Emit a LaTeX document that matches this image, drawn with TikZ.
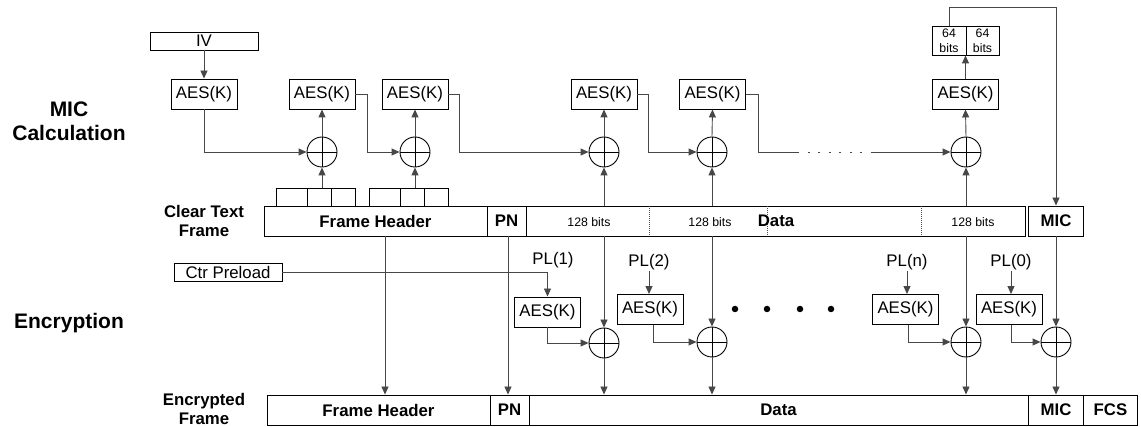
\documentclass[tikz,border=0pt]{standalone}
\usepackage{fontspec}
\setmainfont{Liberation Sans}
\usetikzlibrary{arrows.meta}
\begin{document}
\begin{tikzpicture}[x=1pt,y=-1pt,
  box/.style={draw=black,line width=0.9pt,rectangle,inner sep=0pt,font=\fontsize{16.8}{18}\selectfont},
  aes/.style={box,minimum width=66pt,minimum height=30pt},
  fld/.style={box,minimum height=30pt,font=\fontsize{16.8}{18}\selectfont\bfseries},
  cell/.style={box,minimum height=18pt},
  xor/.style={circle,draw=black,line width=0.9pt,minimum size=30pt,inner sep=0pt,
    path picture={\draw[line width=0.9pt] (path picture bounding box.north) -- (path picture bounding box.south)
      (path picture bounding box.west) -- (path picture bounding box.east);}},
  conn/.style={draw=black!72,line width=0.9pt},
  arr/.style={conn,-{Triangle[length=8pt,width=7pt]}},
  lbl/.style={font=\fontsize{16.8}{19}\selectfont\bfseries,align=center,inner sep=0pt},
  big/.style={font=\fontsize{21}{24}\selectfont\bfseries,align=center,inner sep=0pt},
  small/.style={font=\fontsize{12.3}{15}\selectfont,inner sep=0pt,align=center},
  pl/.style={font=\fontsize{16.8}{18}\selectfont,inner sep=1pt},
  bigdot/.style={circle,fill=black,minimum size=6.5pt,inner sep=0pt},
  divl/.style={draw=black!70,line width=0.6pt,dash pattern=on 1pt off 1pt}
]
\useasboundingbox (0,0) rectangle (1141,427);

% left labels
\node[big] (lmic) at (69,121) {MIC\\Calculation};
\node[big] (lenc) at (69,323) {Encryption};
\node[lbl] (lclr) at (204,221) {Clear Text\\Frame};
\node[lbl] (lenf) at (204,409) {Encrypted\\Frame};

% IV and top AES row
\node[box,minimum width=108pt,minimum height=18pt] (iv) at (204,41) {IV};
\node[aes] (a1) at (204,94) {AES(K)};
\node[aes] (a2) at (322,94) {AES(K)};
\node[aes] (a3) at (415,94) {AES(K)};
\node[aes] (a4) at (604,94) {AES(K)};
\node[aes] (a5) at (712.5,94) {AES(K)};
\node[aes] (a6) at (965.5,94) {AES(K)};

% 64 bits box
\node[box,small,minimum width=34pt,minimum height=29pt] (bL) at (949,40.5) {64\\bits};
\node[box,small,minimum width=33pt,minimum height=29pt] (bR) at (982.5,40.5) {64\\bits};

% top XORs
\node[xor] (x1) at (322,152) {};
\node[xor] (x2) at (415,152) {};
\node[xor] (x3) at (604,152) {};
\node[xor] (x4) at (712,152) {};
\node[xor] (x5) at (966,152) {};

% small header cells
\node[cell,minimum width=31pt] (s1) at (291.5,197) {};
\node[cell,minimum width=24pt] (s2) at (319,197) {};
\node[cell,minimum width=24pt] (s3) at (343,197) {};
\node[cell,minimum width=31pt] (s4) at (384.5,197) {};
\node[cell,minimum width=24pt] (s5) at (412,197) {};
\node[cell,minimum width=24pt] (s6) at (436,197) {};

% clear text frame
\node[fld,minimum width=223pt] (cFH) at (375.5,221) {Frame Header};
\node[fld,minimum width=39pt] (cPN) at (506.5,221) {PN};
\node[fld,minimum width=499pt] (cData) at (775.5,221) {};
\node[fld,minimum width=55pt] (cMIC) at (1056,221) {MIC};
\draw[divl] (649,206.5) -- (649,235.5);
\draw[divl] (767,206.5) -- (767,235.5);
\draw[divl] (921,206.5) -- (921,235.5);
\node[small] (t1) at (589,222) {128 bits};
\node[small] (t2) at (710,222) {128 bits};
\node[small] (t3) at (973,222) {128 bits};
\node[lbl] (tD) at (776,221) {Data};

% counter preload & PL labels
\node[box,minimum width=108pt,minimum height=18pt] (ctr) at (228,272) {Ctr Preload};
\node[pl] (pl1) at (553,260) {PL(1)};
\node[pl] (pl2) at (649,262) {PL(2)};
\node[pl] (pln) at (907,262) {PL(n)};
\node[pl] (pl0) at (1011,262) {PL(0)};

% encryption AES
\node[aes] (e1) at (547.5,312) {AES(K)};
\node[aes] (e2) at (650,309.5) {AES(K)};
\node[aes] (en) at (905.5,309.5) {AES(K)};
\node[aes] (e0) at (1009,309.5) {AES(K)};

% encryption XORs
\node[xor] (y1) at (604,343) {};
\node[xor] (y2) at (712,342) {};
\node[xor] (yn) at (966,342) {};
\node[xor] (y0) at (1056,342) {};

% dots
\node[bigdot] (d1) at (735,309) {};
\node[bigdot] (d2) at (767,309) {};
\node[bigdot] (d3) at (800,309) {};
\node[bigdot] (d4) at (831,309) {};

% encrypted frame
\node[fld,minimum width=223pt] (eFH) at (378.5,410) {Frame Header};
\node[fld,minimum width=39pt] (ePN) at (509.5,410) {PN};
\node[fld,minimum width=499pt] (eData) at (778.5,410) {Data};
\node[fld,minimum width=55pt] (eMIC) at (1056,410) {MIC};
\node[fld,minimum width=54pt] (eFCS) at (1110.5,410) {FCS};

% ---- MIC calculation connectors
\draw[arr] (iv.south) -- (a1.north);
\draw[arr] (a1.south) |- (x1.west);
\draw[arr] (x1.north) -- (a2.south);
\draw[arr] (x1 |- s2.north) -- (x1.south);
\draw[arr] (a2.east) -- ++(12,0) |- (x2.west);
\draw[arr] (x2.north) -- (a3.south);
\draw[arr] (x2 |- s5.north) -- (x2.south);
\draw[arr] (a3.east) -- ++(11,0) |- (x3.west);
\draw[arr] (x3.north) -- (a4.south);
\draw[arr] (x3 |- cData.north) -- (x3.south);
\draw[arr] (a4.east) -- ++(11,0) |- (x4.west);
\draw[arr] (x4.north) -- (a5.south);
\draw[arr] (x4 |- cData.north) -- (x4.south);
\coordinate (dA) at (797,152);
\coordinate (dB) at (873,152);
\draw[conn] (a5.east) -- ++(12,0) |- (dA);
\draw[conn,dash pattern=on 2pt off 8.5pt] (dA) -- (dB);
\draw[arr] (dB) -- (x5.west);
\draw[arr] (x5.north) -- (a6.south);
\draw[arr] (x5 |- cData.north) -- (x5.south);
\draw[arr] (a6.north) -- (a6.north |- bL.south);
\coordinate (tp) at (1056,7);
\draw[arr] (bL.north) |- (tp) -- (cMIC.north);

% ---- encryption connectors
\draw[arr] ([xshift=9.5pt]cFH.south) -- ([xshift=9.5pt]cFH.south |- eFH.north);
\draw[arr] ([xshift=1.5pt]cPN.south) -- ([xshift=1.5pt]cPN.south |- ePN.north);
\draw[arr] (ctr.east) -| (e1.north);
\draw[arr] (pl2.south) -- (pl2.south |- e2.north);
\draw[arr] (pln.south) -- (pln.south |- en.north);
\draw[arr] (pl0.south) -- (pl0.south |- e0.north);
\draw[arr] (e1.south) |- (y1.west);
\draw[arr] ([xshift=3pt]e2.south) |- (y2.west);
\draw[arr] ([xshift=3pt]en.south) |- (yn.west);
\draw[arr] ([xshift=2pt]e0.south) |- (y0.west);
\draw[arr] (y1 |- cData.south) -- (y1.north);
\draw[arr] (y2 |- cData.south) -- (y2.north);
\draw[arr] (yn |- cData.south) -- (yn.north);
\draw[arr] (cMIC.south) -- (y0.north);
\draw[arr] (y1.south) -- (y1 |- eData.north);
\draw[arr] (y2.south) -- (y2 |- eData.north);
\draw[arr] (yn.south) -- (yn |- eData.north);
\draw[arr] (y0.south) -- (eMIC.north);
\end{tikzpicture}
\end{document}
